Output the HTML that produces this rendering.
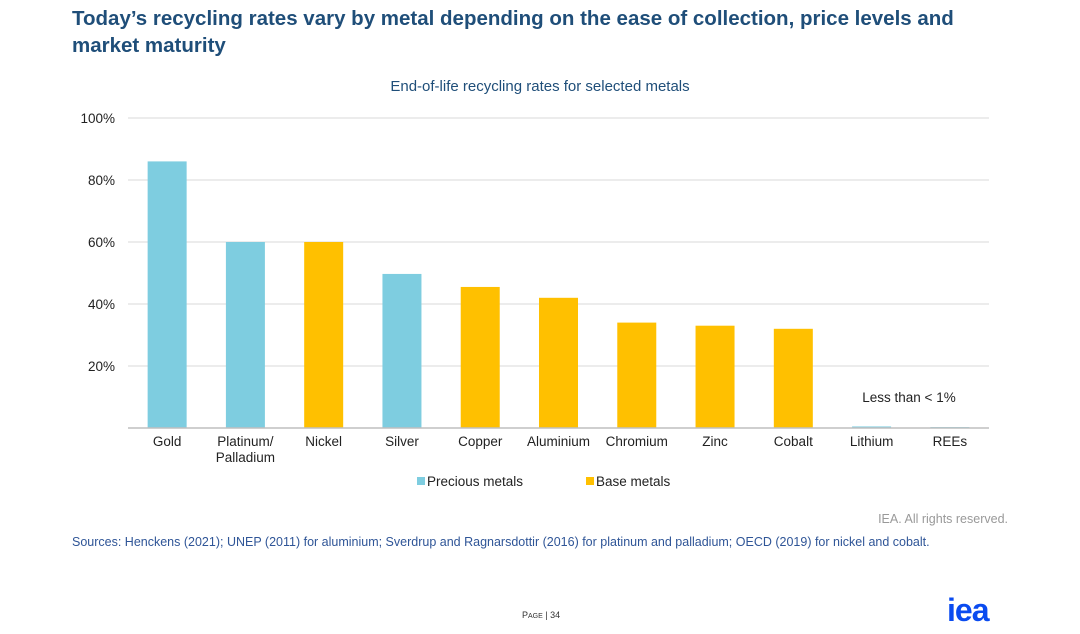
<!DOCTYPE html>
<html><head><meta charset="utf-8"><style>
body{margin:0;width:1080px;height:634px;background:#fff;font-family:"Liberation Sans",sans-serif;position:relative;overflow:hidden}
.t{position:absolute;white-space:nowrap}
</style></head><body>
<div class="t" style="left:72px;top:5px;font-size:20.5px;font-weight:bold;color:#1f4e79;line-height:27px;white-space:normal;width:900px">Today’s recycling rates vary by metal depending on the ease of collection, price levels and market maturity</div>
<div class="t" style="left:0;width:1080px;text-align:center;top:78px;font-size:15px;color:#1f4e79">End-of-life recycling rates for selected metals</div>
<svg id="chart" width="1080" height="634" style="position:absolute;left:0;top:0"></svg>
<div class="t" style="right:72px;top:512px;font-size:12.5px;color:#999">IEA. All rights reserved.</div>
<div class="t" style="left:72px;top:535px;font-size:12.5px;color:#2f5597">Sources: Henckens (2021); UNEP (2011) for aluminium; Sverdrup and Ragnarsdottir (2016) for platinum and palladium; OECD (2019) for nickel and cobalt.</div>
<div class="t" style="left:522px;top:610px;font-size:9px;color:#333">P<span style="font-size:7px">AGE</span> | 34</div>
<div class="t" style="left:947px;top:594px;font-size:32px;font-weight:bold;color:#0a4bf0;letter-spacing:-1px;line-height:32px">iea</div>
<script>
const categories=["Gold","Platinum/|Palladium","Nickel","Silver","Copper","Aluminium","Chromium","Zinc","Cobalt","Lithium","REEs"];
const values=[86,60,60,49.7,45.5,42,34,33,32,0.5,0.3];
const groups=["p","p","b","p","b","b","b","b","b","p","p"];
const ticks=[20,40,60,80,100];
const svg=document.getElementById('chart');const NS='http://www.w3.org/2000/svg';
const x0=128,x1=989,y0=428,y100=118;
const bw=(x1-x0)/categories.length;
const y=v=>y0-(v/100)*(y0-y100);
const xc=i=>x0+bw*(i+0.5);
const colors={p:"#7ecde0",b:"#ffc000"};
function mk(t,a){const e=document.createElementNS(NS,t);for(const k in a)e.setAttribute(k,a[k]);svg.appendChild(e);return e;}
ticks.forEach(v=>{
 const l=mk('line',{x1:x0,x2:x1,y1:y(v),y2:y(v),stroke:'#d9d9d9','stroke-width':1});
 
 
 const t=mk('text',{x:115,y:y(v)+5,'text-anchor':'end','font-size':13.5,fill:'#222','font-family':'Liberation Sans'});
 t.textContent=v+'%';
 
 
});
values.forEach((v,i)=>{
 const r=mk('rect',{x:xc(i)-19.5,width:39,y:y(v),height:y0-y(v),fill:colors[groups[i]]});
 
 
 categories[i].split('|').forEach((s,j)=>{
  const t=mk('text',{x:xc(i),y:446+j*16,'text-anchor':'middle','font-size':13.5,fill:'#222','font-family':'Liberation Sans'});
  t.textContent=s;
  
  
 });
});
const ax=mk('line',{x1:x0,x2:x1,y1:y0,y2:y0,stroke:'#bfbfbf','stroke-width':1.5});


const note=mk('text',{x:909,y:402,'text-anchor':'middle','font-size':13.5,fill:'#222','font-family':'Liberation Sans'});
note.textContent='Less than < 1%';


[["Precious metals","#7ecde0",417],["Base metals","#ffc000",586]].forEach(([n,c,lx])=>{
 const s=mk('rect',{x:lx,y:477,width:8,height:8,fill:c});
 
 
 const t=mk('text',{x:lx+10,y:486,'font-size':13.5,fill:'#222','font-family':'Liberation Sans'});
 t.textContent=n;
 
 
});
</script>
</body></html>
